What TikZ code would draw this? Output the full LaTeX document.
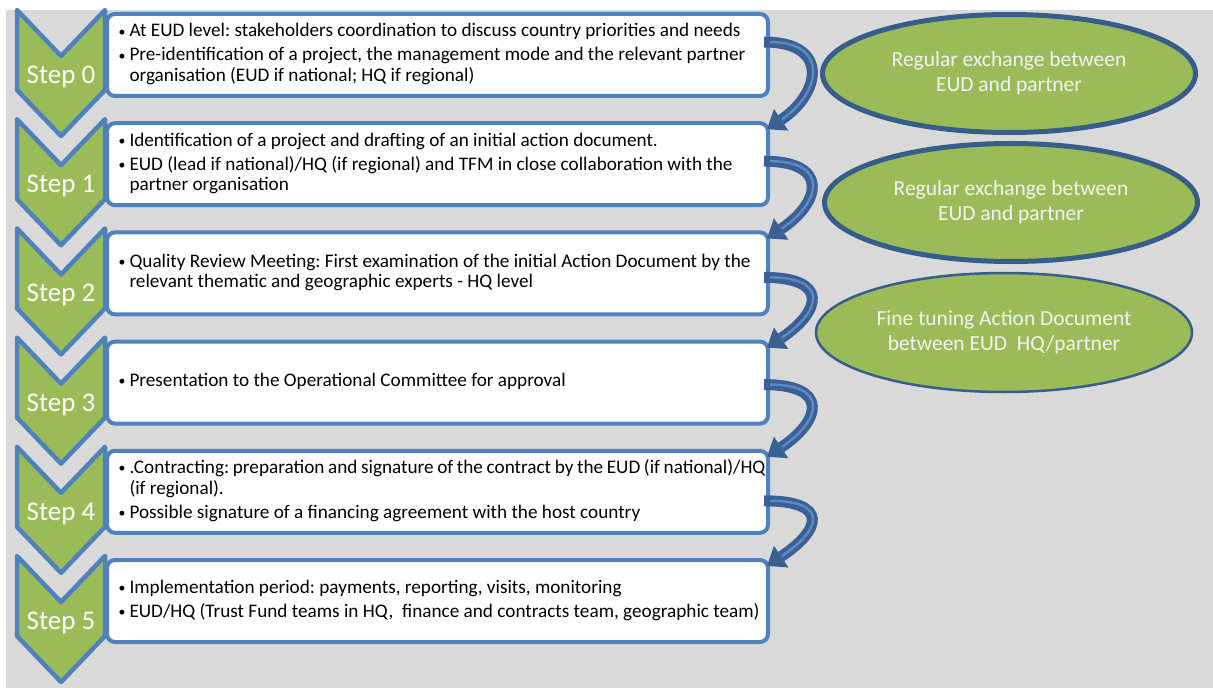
\documentclass[tikz,border=0pt]{standalone}
\usepackage{fontspec}
\setmainfont{Carlito}
\usetikzlibrary{shapes.geometric,arrows.meta,calc}

\definecolor{bggray}{HTML}{D9D9D9}
\definecolor{stepgreen}{HTML}{9BBB59}
\definecolor{stepblue}{HTML}{4F81BD}
\definecolor{darkblue}{HTML}{385D8A}
\definecolor{arrowblue}{HTML}{3B6194}
\definecolor{arrowshine}{HTML}{5A89C4}
\definecolor{talktext}{HTML}{F2F2F2}

\frenchspacing
\newcommand{\stepitems}[1]{\begin{tabular}{@{\hspace{9bp}}p{11bp}@{}p{636bp}@{}}#1\end{tabular}}
\newcommand{\dotmark}{\raisebox{0.8bp}{\scalebox{0.72}{\textbullet}}}

\tikzset{
  chevron/.style={draw=stepblue,fill=stepgreen,line width=4.5bp,line join=round},
  steplabel/.style={text=white,inner sep=0pt,font=\fontsize{27bp}{30bp}\selectfont},
  stepbox/.style={draw=stepblue,fill=white,line width=4bp,rounded corners=8bp,anchor=north west,
    minimum width=661bp,minimum height=82bp,inner sep=0pt,outer sep=0pt,font=\fontsize{19.2bp}{20.5bp}\selectfont},
  talk/.style={ellipse,draw=darkblue,fill=stepgreen,line width=5bp,minimum width=373bp,minimum height=118bp,
    align=center,text=talktext,font=\fontsize{21.5bp}{25bp}\selectfont},
  turnarrow/.style={draw=arrowblue,line width=11bp,-{Triangle[width=26bp,length=17bp,line width=0pt]}},
  turnshine/.style={draw=arrowshine,line width=2.5bp,shorten >=18bp,shorten <=6bp}
}

\begin{document}
\begin{tikzpicture}[x=1bp,y=-1bp]
  \useasboundingbox (0,0) rectangle (1213,688);
  \fill[bggray] (6,10) rectangle (1213,688);
  %% chevrons
  \foreach \i in {0,...,5}{
    \pgfmathsetmacro{\t}{10+109.2*\i}
    \draw[chevron] (17,\t) -- (61,\t+46) -- (105,\t) -- (105,\t+80) -- (61,\t+126) -- (17,\t+80) -- cycle;
    \node[steplabel] (step\i) at (61,\t+67) {Step \i};
  }
  %% boxes
  \node[stepbox] (box0) at (107,14) {\stepitems{%
    \dotmark & At EUD level: stakeholders coordination to discuss country priorities and needs\\[3.5bp]
    \dotmark & Pre-identification of a project, the management mode and the relevant partner\newline organisation (EUD if national; HQ if regional)}};
  \node[stepbox] (box1) at (107,123.2) {\stepitems{%
    \dotmark & Identification of a project and drafting of an initial action document.\\[3.5bp]
    \dotmark & EUD (lead if national)/HQ (if regional) and TFM in close collaboration with the\newline partner organisation}};
  \node[stepbox] (box2) at (107,232.4) {\stepitems{%
    \dotmark & Quality Review Meeting: First examination of the initial Action Document by the\newline relevant thematic and geographic experts - HQ level}};
  \node[stepbox] (box3) at (107,341.6) {\stepitems{%
    \dotmark & Presentation to the Operational Committee for approval}};
  \node[stepbox] (box4) at (107,450.8) {\stepitems{%
    \dotmark & .Contracting: preparation and signature of the contract by the EUD (if national)/HQ\newline (if regional).\\[3.5bp]
    \dotmark & Possible signature of a financing agreement with the host country}};
  \node[stepbox] (box5) at (107,560) {\stepitems{%
    \dotmark & Implementation period: payments, reporting, visits, monitoring\\[3.5bp]
    \dotmark & EUD/HQ (Trust Fund teams in HQ,~ finance and contracts team, geographic team)}};
  %% curved arrows
  \foreach \i/\j/\dy in {0/1/28bp,1/2/38bp,2/3/45bp,3/4/43bp,4/5/50bp}{
    \coordinate (from\i) at ([xshift=-4bp,yshift=-\dy]box\i.north east);
    \coordinate (to\j) at ([xshift=-1bp,yshift=-6bp]box\j.north east);
    \draw[turnarrow] (from\i) .. controls ($(from\i)+(66,0)$) and ($(to\j)+(54,-36)$) .. (to\j);
    \draw[turnshine] (from\i) .. controls ($(from\i)+(66,0)$) and ($(to\j)+(54,-36)$) .. (to\j);
  }
  %% ellipses
  \node[talk] (exchange0) at (1009,73.5) {Regular exchange between\\EUD and partner};
  \node[talk] (exchange1) at (1011,202.5) {Regular exchange between\\EUD and partner};
  \node[talk,line width=2.5bp,minimum width=376bp,minimum height=119bp] (tuning) at (1004,332.5) {Fine tuning Action Document\\between EUD~ HQ/partner};
\end{tikzpicture}
\end{document}
